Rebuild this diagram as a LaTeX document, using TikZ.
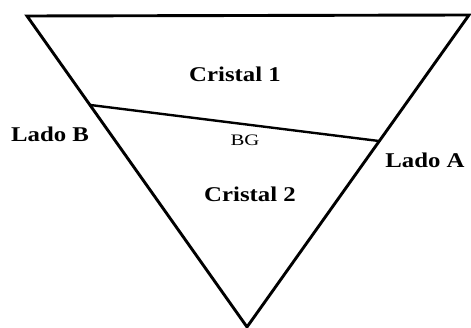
\documentclass[tikz,border=0pt]{standalone}
\usepackage{fontspec}
\usetikzlibrary{calc}
\setmainfont{Liberation Serif}
\newfontfamily\lblfont[FakeStretch=1.18]{Liberation Serif}
\newfontfamily\bgfont[FakeStretch=1.3]{Liberation Serif}
\begin{document}
\begin{tikzpicture}[x=1pt,y=-1pt,
  edge/.style={line width=2.9pt,line join=miter},
  bound/.style={line width=2.4pt},
  lbl/.style={font=\lblfont\bfseries\fontsize{21}{21}\selectfont,anchor=base,inner sep=0pt},
  bglbl/.style={font=\bgfont\fontsize{16}{16}\selectfont,anchor=base,inner sep=0pt}]
\useasboundingbox (0,0) rectangle (471,328);
\coordinate (tl) at (27,16);
\coordinate (tr) at (469,15);
\coordinate (bt) at (247,327);
\coordinate (gb) at ($(tl)!0.286!(bt)$);
\coordinate (ga) at ($(tr)!0.404!(bt)$);
\draw[edge] (tl) -- (tr) -- (bt) -- cycle;
\draw[bound] (gb) -- (ga);
\node[lbl] (c1) at (235,82) {Cristal 1};
\node[lbl] (c2) at (250,202) {Cristal 2};
\node[bglbl] (bg) at (245,146) {BG};
\node[lbl] (lb) at (50,142) {Lado B};
\node[lbl] (la) at (425,168) {Lado A};
\end{tikzpicture}
\end{document}
